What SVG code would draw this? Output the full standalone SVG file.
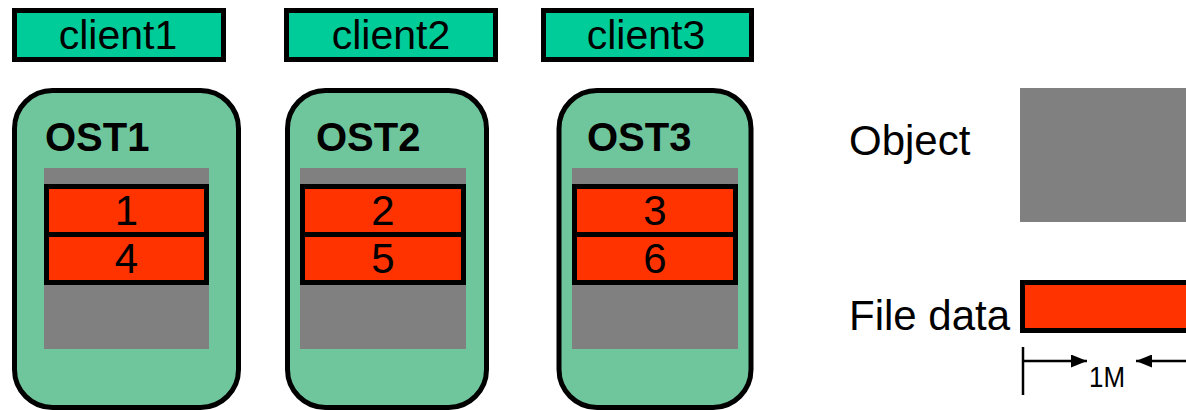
<svg xmlns="http://www.w3.org/2000/svg" width="1186" height="410" viewBox="0 0 1186 410">
  <style>
    .client { fill: #00CC99; stroke: #000; stroke-width: 5; }
    .ost { fill: #70C69C; stroke: #000; stroke-width: 5; }
    .obj { fill: #808080; }
    .chunk { fill: #FF3300; stroke: #000; stroke-width: 5; }
    .t { font-family: "Liberation Sans", Arial, sans-serif; fill: #000; }
    .lbl { font-size: 41px; text-anchor: middle; }
    .ostlbl { font-size: 40px; font-weight: bold; }
    .num { font-size: 42px; text-anchor: middle; }
    .legend { font-size: 42px; }
    .dim { stroke: #000; stroke-width: 2.5; fill: none; }
  </style>
  <defs>
    <marker id="arrow" viewBox="0 0 16 13" refX="16" refY="6.5" markerWidth="16" markerHeight="13" markerUnits="userSpaceOnUse" orient="auto">
      <path d="M0,0 L16,6.5 L0,13 Z" fill="#000"/>
    </marker>
  </defs>

  <rect width="1186" height="410" fill="#fff"/>

  <!-- clients -->
  <g id="client1">
    <rect class="client" x="14.5" y="10.5" width="209" height="49"/>
    <text class="t lbl" x="118" y="49">client1</text>
  </g>
  <g id="client2">
    <rect class="client" x="286.5" y="10.5" width="209" height="49"/>
    <text class="t lbl" x="391" y="49">client2</text>
  </g>
  <g id="client3">
    <rect class="client" x="543.5" y="10.5" width="208" height="49"/>
    <text class="t lbl" x="646" y="49">client3</text>
  </g>

  <!-- object storage targets with their stripes -->
  <g id="ost1">
    <rect class="ost" x="14.5" y="90.5" width="224" height="317" rx="38" ry="38"/>
    <text class="t ostlbl" x="45" y="150.5">OST1</text>
    <rect class="obj" x="44" y="168" width="165" height="181"/>
    <rect class="chunk" x="46.5" y="186.5" width="160" height="48"/>
    <rect class="chunk" x="46.5" y="234.5" width="160" height="48"/>
    <text class="t num" x="126.5" y="225">1</text>
    <text class="t num" x="126.5" y="273">4</text>
  </g>
  <g id="ost2">
    <rect class="ost" x="287.5" y="90.5" width="199" height="317" rx="38" ry="38"/>
    <text class="t ostlbl" x="316" y="150.5">OST2</text>
    <rect class="obj" x="300" y="168" width="166" height="181"/>
    <rect class="chunk" x="302.5" y="186.5" width="161" height="48"/>
    <rect class="chunk" x="302.5" y="234.5" width="161" height="48"/>
    <text class="t num" x="383" y="225">2</text>
    <text class="t num" x="383" y="273">5</text>
  </g>
  <g id="ost3">
    <rect class="ost" x="559" y="90.5" width="192" height="317" rx="38" ry="38"/>
    <text class="t ostlbl" x="587" y="150.5">OST3</text>
    <rect class="obj" x="572" y="168" width="166" height="181"/>
    <rect class="chunk" x="574.5" y="186.5" width="161" height="48"/>
    <rect class="chunk" x="574.5" y="234.5" width="161" height="48"/>
    <text class="t num" x="655" y="225">3</text>
    <text class="t num" x="655" y="273">6</text>
  </g>

  <!-- legend -->
  <g id="legend-object">
    <text class="t legend" x="849" y="155">Object</text>
    <rect class="obj" x="1020" y="88" width="180" height="134"/>
  </g>
  <g id="legend-filedata">
    <text class="t legend" x="849" y="330">File data</text>
    <rect class="chunk" x="1022.5" y="282.5" width="180" height="48"/>
  </g>

  <!-- stripe size dimension -->
  <g id="connectors">
    <line class="dim" x1="1023" y1="347" x2="1023" y2="395"/>
    <line class="dim" x1="1023" y1="361" x2="1087" y2="361" marker-end="url(#arrow)"/>
    <line class="dim" x1="1190" y1="361" x2="1136" y2="361" marker-end="url(#arrow)"/>
    <text class="t" x="1089" y="387" font-size="29" textLength="36" lengthAdjust="spacingAndGlyphs">1M</text>
  </g>
</svg>
